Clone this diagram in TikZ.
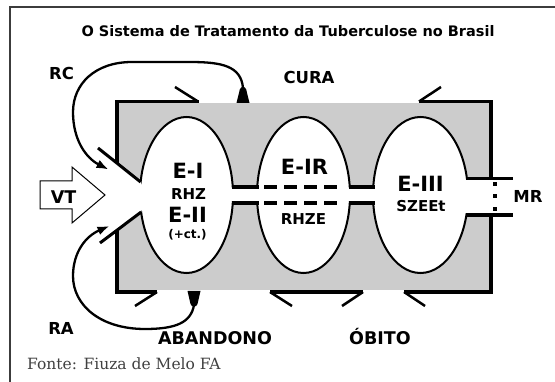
\documentclass[tikz,border=0pt]{standalone}
\usepackage{fontspec}
\setmainfont{DejaVu Sans}
\newfontfamily\srcfont{DejaVu Serif}
\usetikzlibrary{arrows.meta}
\definecolor{boxgray}{RGB}{204,204,204}
\definecolor{framegray}{RGB}{60,60,60}
\definecolor{srcgray}{RGB}{64,64,64}
\begin{document}
\begin{tikzpicture}[x=1pt,y=-1pt,
  wall/.style={line width=3.5pt},
  tickline/.style={line width=2.5pt},
  oval/.style={line width=2pt},
  chan/.style={line width=3.5pt},
  flow/.style={line width=2.3pt},
  tipstyle/.style={-{Latex[length=12pt,width=9pt]}},
  lbl/.style={font=\fontsize{16.5}{18}\selectfont\bfseries, anchor=base, inner sep=0pt},
  big/.style={font=\fontsize{21}{23}\selectfont\bfseries, anchor=base, inner sep=0pt},
  mid/.style={font=\fontsize{15}{17}\selectfont\bfseries, anchor=base, inner sep=0pt},
  small/.style={font=\fontsize{12}{14}\selectfont\bfseries, anchor=base, inner sep=0pt},
]
\useasboundingbox (0,0) rectangle (555,382);
% outer frame
\draw[framegray, line width=1.2pt] (10,382) -- (10,7) -- (555,7);

% gray body
\fill[boxgray] (117,103.5) rectangle (491,290.5);

% ellipses
\coordinate (c1) at (186.5,195);
\coordinate (c2) at (303.5,195);
\coordinate (c3) at (420.5,195);
\filldraw[oval, fill=white] (c1) ellipse [x radius=46.5pt, y radius=78pt];
\filldraw[oval, fill=white] (c2) ellipse [x radius=46.5pt, y radius=78pt];
\filldraw[oval, fill=white] (c3) ellipse [x radius=47.5pt, y radius=78pt];

% white openings
\fill[white] (116,162.4) -- (140.6,182) -- (146,195) -- (141.2,212) -- (116,230.9) -- cycle;
\fill[white] (228,188.5) rectangle (262,201.5);
\fill[white] (345,188.5) rectangle (378,201.5);
\fill[white] (462,180.5) rectangle (491,213);

% funnel diagonals
\coordinate (fu1) at (98,148);
\coordinate (fu2) at (140.6,182);
\coordinate (fl1) at (100,243);
\coordinate (fl2) at (141.2,212);
\draw[wall, line width=3pt] (fu1) -- (fu2);
\draw[wall, line width=3pt] (fl1) -- (fl2);

% walls
\draw[wall] (117,163) -- (117,101.5) -- (199,101.5);
\draw[wall] (419,101.5) -- (491,101.5) -- (491,178.5);
\draw[wall] (117,230) -- (117,292) -- (157,292);
\draw[wall] (270,292) -- (363,292);
\draw[wall] (404,292) -- (491,292) -- (491,215);

% ticks
\draw[tickline] (198,101.5) -- (175,87);
\draw[tickline] (419,101.5) -- (441,87);
\draw[tickline] (157,292) -- (135,306);
\draw[tickline] (270,292) -- (292,306);
\draw[tickline] (363,292) -- (342,306);
\draw[tickline] (404,292) -- (425,306);

% channels
\draw[chan] (232,187) -- (258.5,187);
\draw[chan] (232,203) -- (258.5,203);
\draw[chan] (349,187) -- (374.5,187);
\draw[chan] (349,203) -- (374.5,203);
\draw[chan, dash pattern=on 13pt off 7pt] (264,187) -- (343,187);
\draw[chan, dash pattern=on 13pt off 7pt] (264,203) -- (343,203);

% exit
\draw[chan] (466,178.5) -- (513,178.5);
\draw[chan] (466,215) -- (513,215);
\fill (493,182.5) rectangle (497,186.5);
\fill (493,194) rectangle (497,198);
\fill (493,207.5) rectangle (497,211.5);

% VT block arrow
\draw[line width=1pt, fill=white] (40,181) -- (72,181) -- (72,167) -- (105,195) -- (72,223) -- (72,209) -- (40,209) -- cycle;
\node[lbl, font=\fontsize{17.5}{19}\selectfont\bfseries] (vt) at (63.5,204) {VT};

% RC arrow
\coordinate (rcs) at (243,88);
\coordinate (rce) at (108.5,169.5);
\fill (236.5,103) -- (239.8,89.5) .. controls (241,86) and (245,86) .. (246.2,89.5) -- (249.5,103) -- cycle;
\draw[flow, tipstyle] (rcs) .. controls (241,66) and (222,62) .. (190,62) -- (132,62) .. controls (95,62) and (73,84) .. (73,112) .. controls (73,140) and (86,158) .. (rce);

% RA arrow
\coordinate (ras) at (194,305);
\coordinate (rae) at (109.5,226);
\fill (187.5,291) -- (200.5,291) -- (197.5,304) .. controls (196.5,307.5) and (191.5,307.5) .. (190.5,304) -- cycle;
\draw[flow, tipstyle] (ras) .. controls (191,323) and (175,329) .. (145,329) .. controls (100,329) and (73,305) .. (73,276) .. controls (73,252) and (86,236) .. (rae);

% texts
\node[font=\fontsize{14.5}{16}\selectfont\bfseries, anchor=base, inner sep=0pt] (title) at (288,37) {O Sistema de Tratamento da Tuberculose no Brasil};
\node[lbl] (rc) at (61.5,80) {RC};
\node[lbl] (cura) at (309,84) {CURA};
\node[lbl] (mr) at (528,203) {MR};
\node[lbl] (ra) at (61,335) {RA};
\node[lbl, font=\fontsize{17.5}{19}\selectfont\bfseries] (aband) at (215,345) {ABANDONO};
\node[lbl, font=\fontsize{17.5}{19}\selectfont\bfseries] (obito) at (380,345) {ÓBITO};
\node[font=\srcfont\fontsize{15.5}{17}\selectfont, text=srcgray, anchor=base west, inner sep=0pt] (src) at (27,370) {Fonte: Fiuza de Melo FA};

\node[big] (e1) at (188,179) {E-I};
\node[mid] (rhz) at (188.5,200) {RHZ};
\node[big] (e2) at (187.5,222.5) {E-II};
\node[small] (ct) at (187.5,238.5) {(+ct.)};
\node[big] (eir) at (304.5,175) {E-IR};
\node[mid] (rhze) at (303.5,225) {RHZE};
\node[big] (e3) at (420.5,191.5) {E-III};
\node[mid] (szee) at (421,211.5) {SZEEt};
\end{tikzpicture}
\end{document}
